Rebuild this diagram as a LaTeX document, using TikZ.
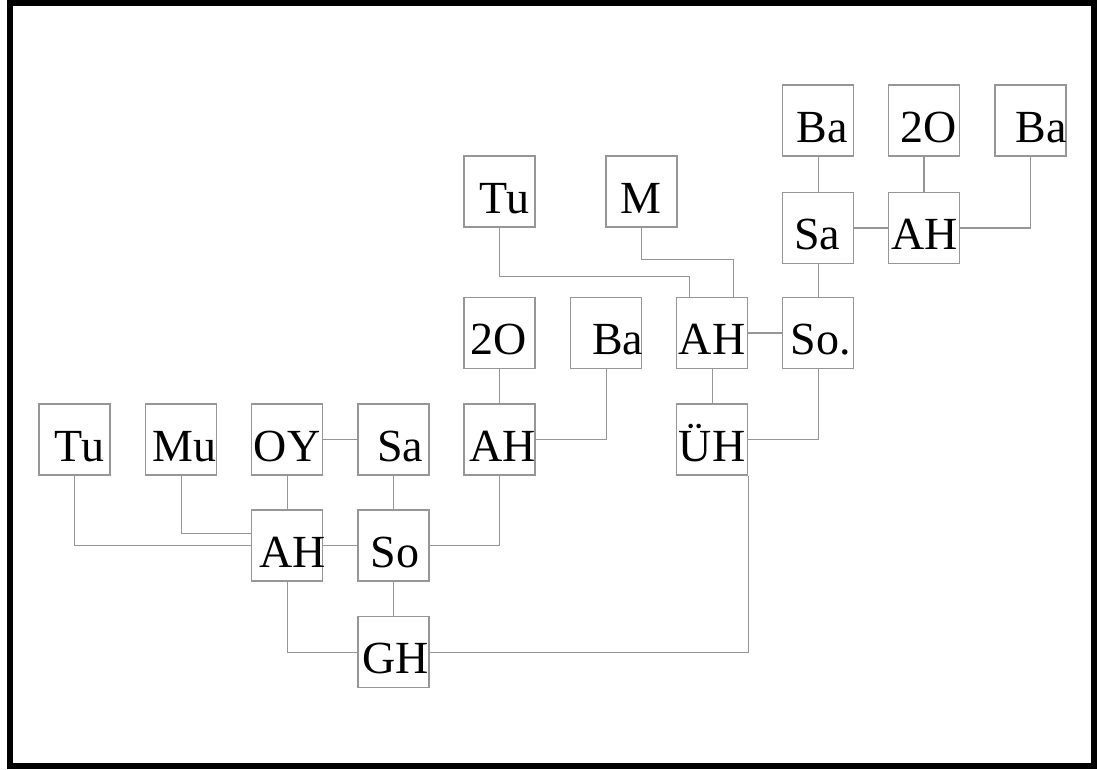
\documentclass[tikz,border=0pt]{standalone}
\usepackage{fontspec}
\setmainfont{Liberation Serif}
\usetikzlibrary{calc}
\definecolor{ln}{RGB}{150,150,150}
\newcommand\bt[2]{\makebox[0pt]{\hspace*{#1pt}#2}}
\begin{document}
\begin{tikzpicture}[x=1pt,y=1pt,
  bx/.style={draw=ln, line width=1.4pt, minimum width=71pt, minimum height=71pt, inner sep=0pt,
    text height=43pt, text depth=0pt, font=\fontsize{46}{50}\selectfont},
  cn/.style={draw=ln, line width=1.4pt}]
\useasboundingbox (0,0) rectangle (1097,-769);
\draw[line width=6pt] (10,-3) rectangle (1094,-766);
% row 3
\node[bx] (tu)  at (74.5,-439.5)  {\bt{10}{Tu}};
\node[bx] (mu)  at (181.2,-439.5) {\bt{6}{Mu}};
\node[bx] (oy)  at (287.2,-439.5) {\bt{0}{OY}};
\node[bx] (sa)  at (393.5,-439.5) {\bt{13}{Sa}};
\node[bx] (ah3) at (499.5,-439.5) {\bt{6}{AH}};
\node[bx] (uh)  at (712.2,-439.5) {\bt{0}{ÜH}};
% row 4, 5
\node[bx] (ah1) at (287.2,-545.5) {\bt{11}{AH}};
\node[bx] (so)  at (393.5,-545.5) {\bt{3}{So}};
\node[bx] (gh)  at (393.5,-652.2) {\bt{5}{GH}};
% row 2
\node[bx] (o2a) at (499.5,-332.8) {\bt{-2}{2O}};
\node[bx] (baa) at (606.2,-332.8) {\bt{23}{Ba}};
\node[bx] (ah2) at (712.2,-332.8) {\bt{0}{AH}};
\node[bx] (so2) at (818.2,-332.8) {\bt{4.6}{So.}};
% Tu, M
\node[bx] (tu2) at (499.5,-191.5) {\bt{10}{Tu}};
\node[bx] (m)   at (641.3,-191.5) {\bt{0}{M}};
% row 1
\node[bx] (sa2) at (818.2,-227.8) {\bt{-2}{Sa}};
\node[bx] (ah4) at (923.8,-227.8) {\bt{2}{AH}};
% row 0
\node[bx] (ba1) at (818.2,-120.5) {\bt{8}{Ba}};
\node[bx] (o2b) at (923.8,-120.5) {\bt{9}{2O}};
\node[bx] (ba2) at (1030.5,-120.5) {\bt{22}{Ba}};
% connectors
\draw[cn] (tu.south) |- (ah1.west);
\draw[cn] (mu.south) |- ($(ah1.west)+(0,12)$);
\draw[cn] (oy.south) -- (ah1.north);
\draw[cn] (oy.east) -- (sa.west);
\draw[cn] (sa.south) -- (so.north);
\draw[cn] (ah1.east) -- (so.west);
\draw[cn] (so.east) -| (ah3.south);
\draw[cn] (ah1.south) |- (gh.west);
\draw[cn] (so.south) -- (gh.north);
\draw[cn] (gh.east) -| (uh.south east);
\draw[cn] (o2a.south) -- (ah3.north);
\draw[cn] (ah3.east) -| (baa.south);
\draw[cn] (tu2.south) |- ($(ah2.north)+(-23,20)$) -- ($(ah2.north)+(-23,0)$);
\draw[cn] (m.south) |- ($(ah2.north)+(21.5,37)$) -- ($(ah2.north)+(21.5,0)$);
\draw[cn] (ah2.east) -- (so2.west);
\draw[cn] (ah2.south) -- (uh.north);
\draw[cn] (so2.south) |- (uh.east);
\draw[cn] (sa2.south) -- (so2.north);
\draw[cn] (ba1.south) -- (sa2.north);
\draw[cn] (sa2.east) -- (ah4.west);
\draw[cn] (o2b.south) -- (ah4.north);
\draw[cn] (ah4.east) -| (ba2.south);
\end{tikzpicture}
\end{document}
